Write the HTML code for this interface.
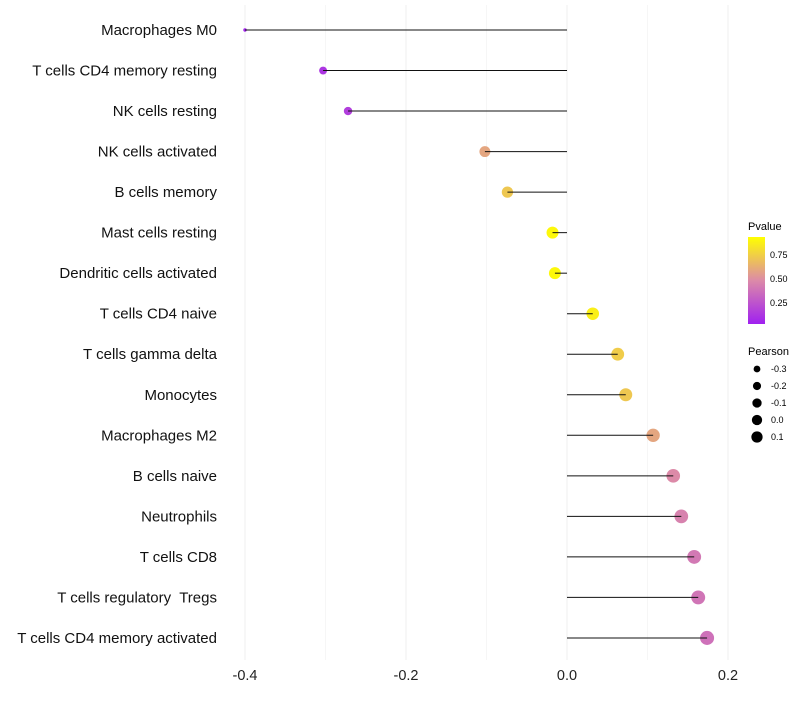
<!DOCTYPE html>
<html><head><meta charset="utf-8"><style>
body{margin:0;background:#fff}
svg text{font-family:"Liberation Sans",sans-serif;white-space:pre}
</style></head><body>
<svg id="c" width="800" height="700">
<defs><linearGradient id="pg" x1="0" y1="1" x2="0" y2="0">
<stop offset="0" stop-color="#a020f0"/><stop offset="0.5" stop-color="#dc8aa8"/><stop offset="1" stop-color="#ffff00"/></linearGradient></defs>
<g id="grid"></g><g id="dots"></g><g id="marks"></g><g id="labels"></g>
<g>
<text x="748" y="230" font-size="11">Pvalue</text>
<rect x="748" y="237" width="17" height="87" fill="url(#pg)"/>
<text x="770" y="258" font-size="9">0.75</text>
<text x="770" y="282" font-size="9">0.50</text>
<text x="770" y="306" font-size="9">0.25</text>
<text x="748" y="355" font-size="11">Pearson</text>
<g id="sizeleg"></g>
</g>
</svg>
<script>
const cells=["Macrophages M0","T cells CD4 memory resting","NK cells resting","NK cells activated","B cells memory","Mast cells resting","Dendritic cells activated","T cells CD4 naive","T cells gamma delta","Monocytes","Macrophages M2","B cells naive","Neutrophils","T cells CD8","T cells regulatory  Tregs","T cells CD4 memory activated"];
const pearson=[-0.40,-0.303,-0.272,-0.102,-0.074,-0.018,-0.015,0.032,0.063,0.073,0.107,0.132,0.142,0.158,0.163,0.174];
const pvalue=[0.02,0.1,0.14,0.62,0.76,0.97,0.97,0.93,0.78,0.76,0.62,0.5,0.46,0.42,0.4,0.38];
const xTicks=[-0.4,-0.2,0.0,0.2];
const xTickLabels=["-0.4","-0.2","0.0","0.2"];
const sizeLegend=[-0.3,-0.2,-0.1,0.0,0.1];
const NS="http://www.w3.org/2000/svg";
const X=v=>567+v*805;
const Y=i=>30+i*40.53;
const R=v=>Math.sqrt(v<-0.3?3+130*(v+0.4):16+70*(v+0.3));
function lerp(a,b,t){return a.map((x,k)=>Math.round(x+(b[k]-x)*t));}
function col(p){const s=[[160,32,240],[220,138,168],[255,255,0]];const t=Math.max(0,Math.min(1,p));
const c=t<0.5?lerp(s[0],s[1],t*2):lerp(s[1],s[2],(t-0.5)*2);return `rgb(${c})`;}
function mk(tag,a,parent){const e=document.createElementNS(NS,tag);for(const k in a)e.setAttribute(k,a[k]);document.getElementById(parent).appendChild(e);return e;}
[-0.3,-0.1,0.1].forEach(v=>{const e=mk('line',{x1:X(v),x2:X(v),y1:5,y2:660,stroke:'#f6f6f6','stroke-width':1},'grid');

});
xTicks.forEach((v,i)=>{const e=mk('line',{x1:X(v),x2:X(v),y1:5,y2:660,stroke:'#efefef','stroke-width':1},'grid');


const t=mk('text',{x:X(v),y:680,'font-size':14.5,'text-anchor':'middle',fill:'#222'},'labels');t.textContent=xTickLabels[i];

});
cells.forEach((c,i)=>{const y=Y(i);
const d=mk('circle',{cx:X(pearson[i]),cy:y,r:R(pearson[i]),fill:col(pvalue[i])},'dots');


const l=mk('line',{x1:X(0),x2:X(pearson[i]),y1:y,y2:y,stroke:'#111','stroke-width':1},'marks');


const t=mk('text',{x:217,y:y+5,'font-size':15,'text-anchor':'end',fill:'#111'},'labels');t.textContent=c;

});
sizeLegend.forEach((v,i)=>{const y=369+i*17;
const d=mk('circle',{cx:757,cy:y,r:R(v)*0.85,fill:'#000'},'sizeleg');


const t=mk('text',{x:771,y:y+3,'font-size':9},'sizeleg');t.textContent=v.toFixed(1);

});
</script>
</body></html>
